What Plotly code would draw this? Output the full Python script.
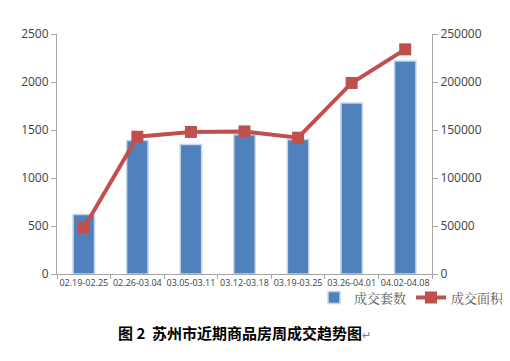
import plotly.graph_objects as go

categories = ["02.19-02.25", "02.26-03.04", "03.05-03.11", "03.12-03.18",
              "03.19-03.25", "03.26-04.01", "04.02-04.08"]
units_sold = [620, 1390, 1350, 1450, 1400, 1780, 2220]
area_sold = [48000, 143000, 148000, 148500, 142000, 199000, 234000]
left_ticks = [0, 500, 1000, 1500, 2000, 2500]
right_ticks = [0, 50000, 100000, 150000, 200000, 250000]
right_labels = [str(v) for v in right_ticks]

fig = go.Figure()
fig.add_trace(go.Bar(
    x=categories, y=units_sold, name="成交套数",
    marker=dict(color="#4F81BD", line=dict(color="#C6D6EA", width=1.5)),
    width=0.4, yaxis="y",
))
fig.add_trace(go.Scatter(
    x=categories, y=area_sold, name="成交面积", yaxis="y2",
    mode="lines+markers",
    line=dict(color="#C0504D", width=4),
    marker=dict(symbol="square", size=12, color="#C0504D"),
))

axis_font = dict(family="Open Sans, DejaVu Sans", size=12, color="#404040")
fig.update_layout(
    width=502, height=353,
    margin=dict(l=49, r=78, t=26, b=87, autoexpand=False),
    paper_bgcolor="white", plot_bgcolor="white",
    font=dict(family="Open Sans, Noto Sans CJK SC", color="#404040"),
    showlegend=True,
    legend=dict(orientation="h", xref="container", yref="container",
                x=1.0, xanchor="right", y=0.222, yanchor="top",
                font=dict(family="Noto Serif CJK SC, Noto Sans CJK SC", size=13, color="#595959"),
                itemwidth=30, tracegroupgap=0, bgcolor="rgba(0,0,0,0)"),
    xaxis=dict(type="category", showgrid=False, showline=True, linecolor="#A6A6A6",
               ticks="outside", tickson="boundaries", tickcolor="#A6A6A6", ticklen=4,
               tickfont=dict(family="Open Sans, DejaVu Sans", size=9, color="#404040"),
               tickangle=0),
    yaxis=dict(range=[0, 2500], tickvals=left_ticks, showgrid=False, showline=True,
               linecolor="#A6A6A6", ticks="outside", tickcolor="#A6A6A6", ticklen=5,
               tickfont=axis_font, zeroline=False),
    yaxis2=dict(range=[0, 250000], tickvals=right_ticks, ticktext=right_labels,
                overlaying="y", side="right",
                showgrid=False, showline=True, linecolor="#A6A6A6", ticks="outside",
                tickcolor="#A6A6A6", ticklen=5, tickfont=axis_font, zeroline=False),
    annotations=[dict(
        text="<b>图 2  苏州市近期商品房周成交趋势图</b><span style='color:#808080;font-size:11px'>↵</span>",
        xref="paper", yref="paper", x=0.5, y=-0.245, xanchor="center", yanchor="middle",
        showarrow=False,
        font=dict(family="Noto Sans CJK SC", size=15, color="#000000"),
    )],
)

fig.write_html("out.html")
